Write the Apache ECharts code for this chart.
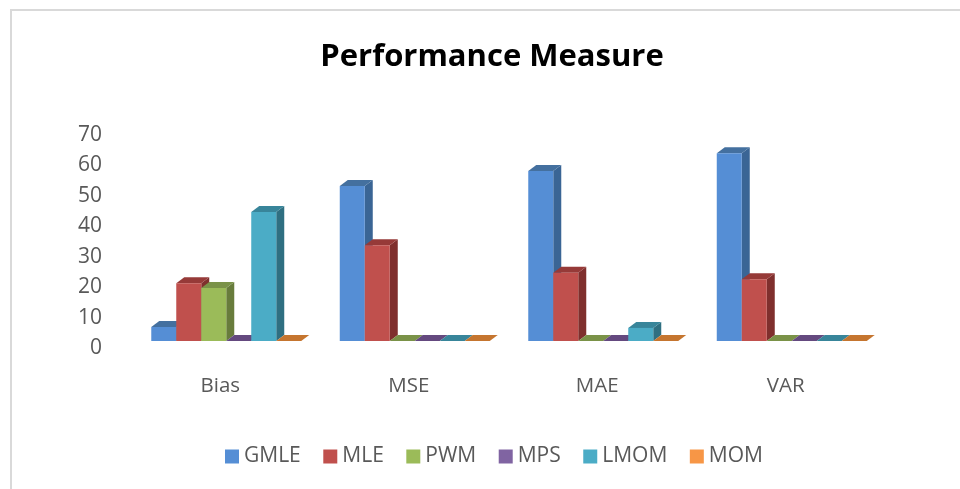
<!DOCTYPE html>
<html>
<head>
<meta charset="utf-8">
<title>Performance Measure</title>
<script src="https://cdn.jsdelivr.net/npm/echarts@6/dist/echarts.min.js"></script>
<style>
    html, body { margin: 0; padding: 0; background: #fff; }
    #main { width: 960px; height: 489px; }
</style>
</head>
<body>
<div id="main"></div>
<script>
const categories = ["Bias", "MSE", "MAE", "VAR"];
const seriesNames = ["GMLE", "MLE", "PWM", "MPS", "LMOM", "MOM"];
const GMLE = [4.6, 50.9, 55.9, 61.7];
const MLE = [19, 31.5, 22.4, 20.3];
const PWM = [17.4, 0, 0, 0];
const MPS = [0, 0, 0, 0];
const LMOM = [42.4, 0, 4.3, 0];
const MOM = [0, 0, 0, 0];
const yTicks = [0, 10, 20, 30, 40, 50, 60, 70];

const values = [GMLE, MLE, PWM, MPS, LMOM, MOM];
const frontColors = ["#558ed5", "#c0504d", "#9bbb59", "#8064a2", "#4bacc6", "#f79646"];
const topColors = ["#44709f", "#963a38", "#7a9248", "#64497f", "#38859a", "#c5752f"];
const sideColors = ["#3a6595", "#7f2f2d", "#687c3c", "#55407a", "#2f6f81", "#a8642a"];

// the bars stand a little in front of the axis plane
const depthX = 8, depthY = 6;
const shiftX = 6, shiftY = -7;

function bar3d(i) {
    return function(params, api) {
        const w = api.size([1, 0])[0] * 0.1326;
        const top = api.coord([api.value(0), api.value(1)]);
        const base = api.coord([api.value(0), 0]);
        const x0 = top[0] + shiftX + (i - 3) * w;
        const x1 = x0 + w;
        const yt = top[1] + shiftY;
        const yb = base[1] + shiftY;
        return {
            type: "group",
            children: [
                {
                    type: "polygon",
                    shape: { points: [[x1, yt], [x1 + depthX, yt - depthY], [x1 + depthX, yb - depthY], [x1, yb]] },
                    style: { fill: sideColors[i] }
                },
                {
                    type: "polygon",
                    shape: { points: [[x0, yt], [x0 + depthX, yt - depthY], [x1 + depthX, yt - depthY], [x1, yt]] },
                    style: { fill: topColors[i] }
                },
                {
                    type: "rect",
                    shape: { x: x0, y: yt, width: w, height: yb - yt },
                    style: { fill: frontColors[i] }
                }
            ]
        };
    };
}

const chart = echarts.init(document.getElementById("main"));
const option = {
    animation: false,
    textStyle: { fontFamily: "Open Sans" },
    title: {
        text: "Performance Measure",
        left: 487,
        top: 37,
        textAlign: "center",
        textStyle: { fontSize: 31, fontWeight: "bold", color: "#000", fontFamily: "Open Sans" }
    },
    legend: {
        data: seriesNames,
        left: 220,
        top: 441,
        icon: "rect",
        itemWidth: 14,
        itemHeight: 14,
        itemGap: 22.5,
        textStyle: { fontSize: 21, color: "#595959" }
    },
    grid: { left: 126, right: 80, top: 135, bottom: 141 },
    xAxis: {
        type: "category",
        data: categories,
        axisLine: { show: false },
        axisTick: { show: false },
        axisLabel: { fontSize: 20.5, color: "#595959", margin: 28 }
    },
    yAxis: {
        type: "value",
        min: 0,
        max: yTicks[yTicks.length - 1],
        interval: 10,
        axisLine: { show: false },
        axisTick: { show: false },
        splitLine: { show: false },
        axisLabel: { fontSize: 21, color: "#595959", margin: 24 }
    },
    graphic: [
        {
            type: "polyline",
            silent: true,
            shape: { points: [[11, 489], [11, 10], [960, 10]] },
            style: { stroke: "#d9d9d9", lineWidth: 2, fill: null }
        }
    ],
    series: seriesNames.map((name, i) => ({
        name: name,
        type: "custom",
        renderItem: bar3d(i),
        itemStyle: { color: frontColors[i] },
        encode: { x: 0, y: 1 },
        clip: false,
        data: categories.map((c, k) => [k, values[i][k]])
    }))
};
chart.setOption(option);
</script>
</body>
</html>
